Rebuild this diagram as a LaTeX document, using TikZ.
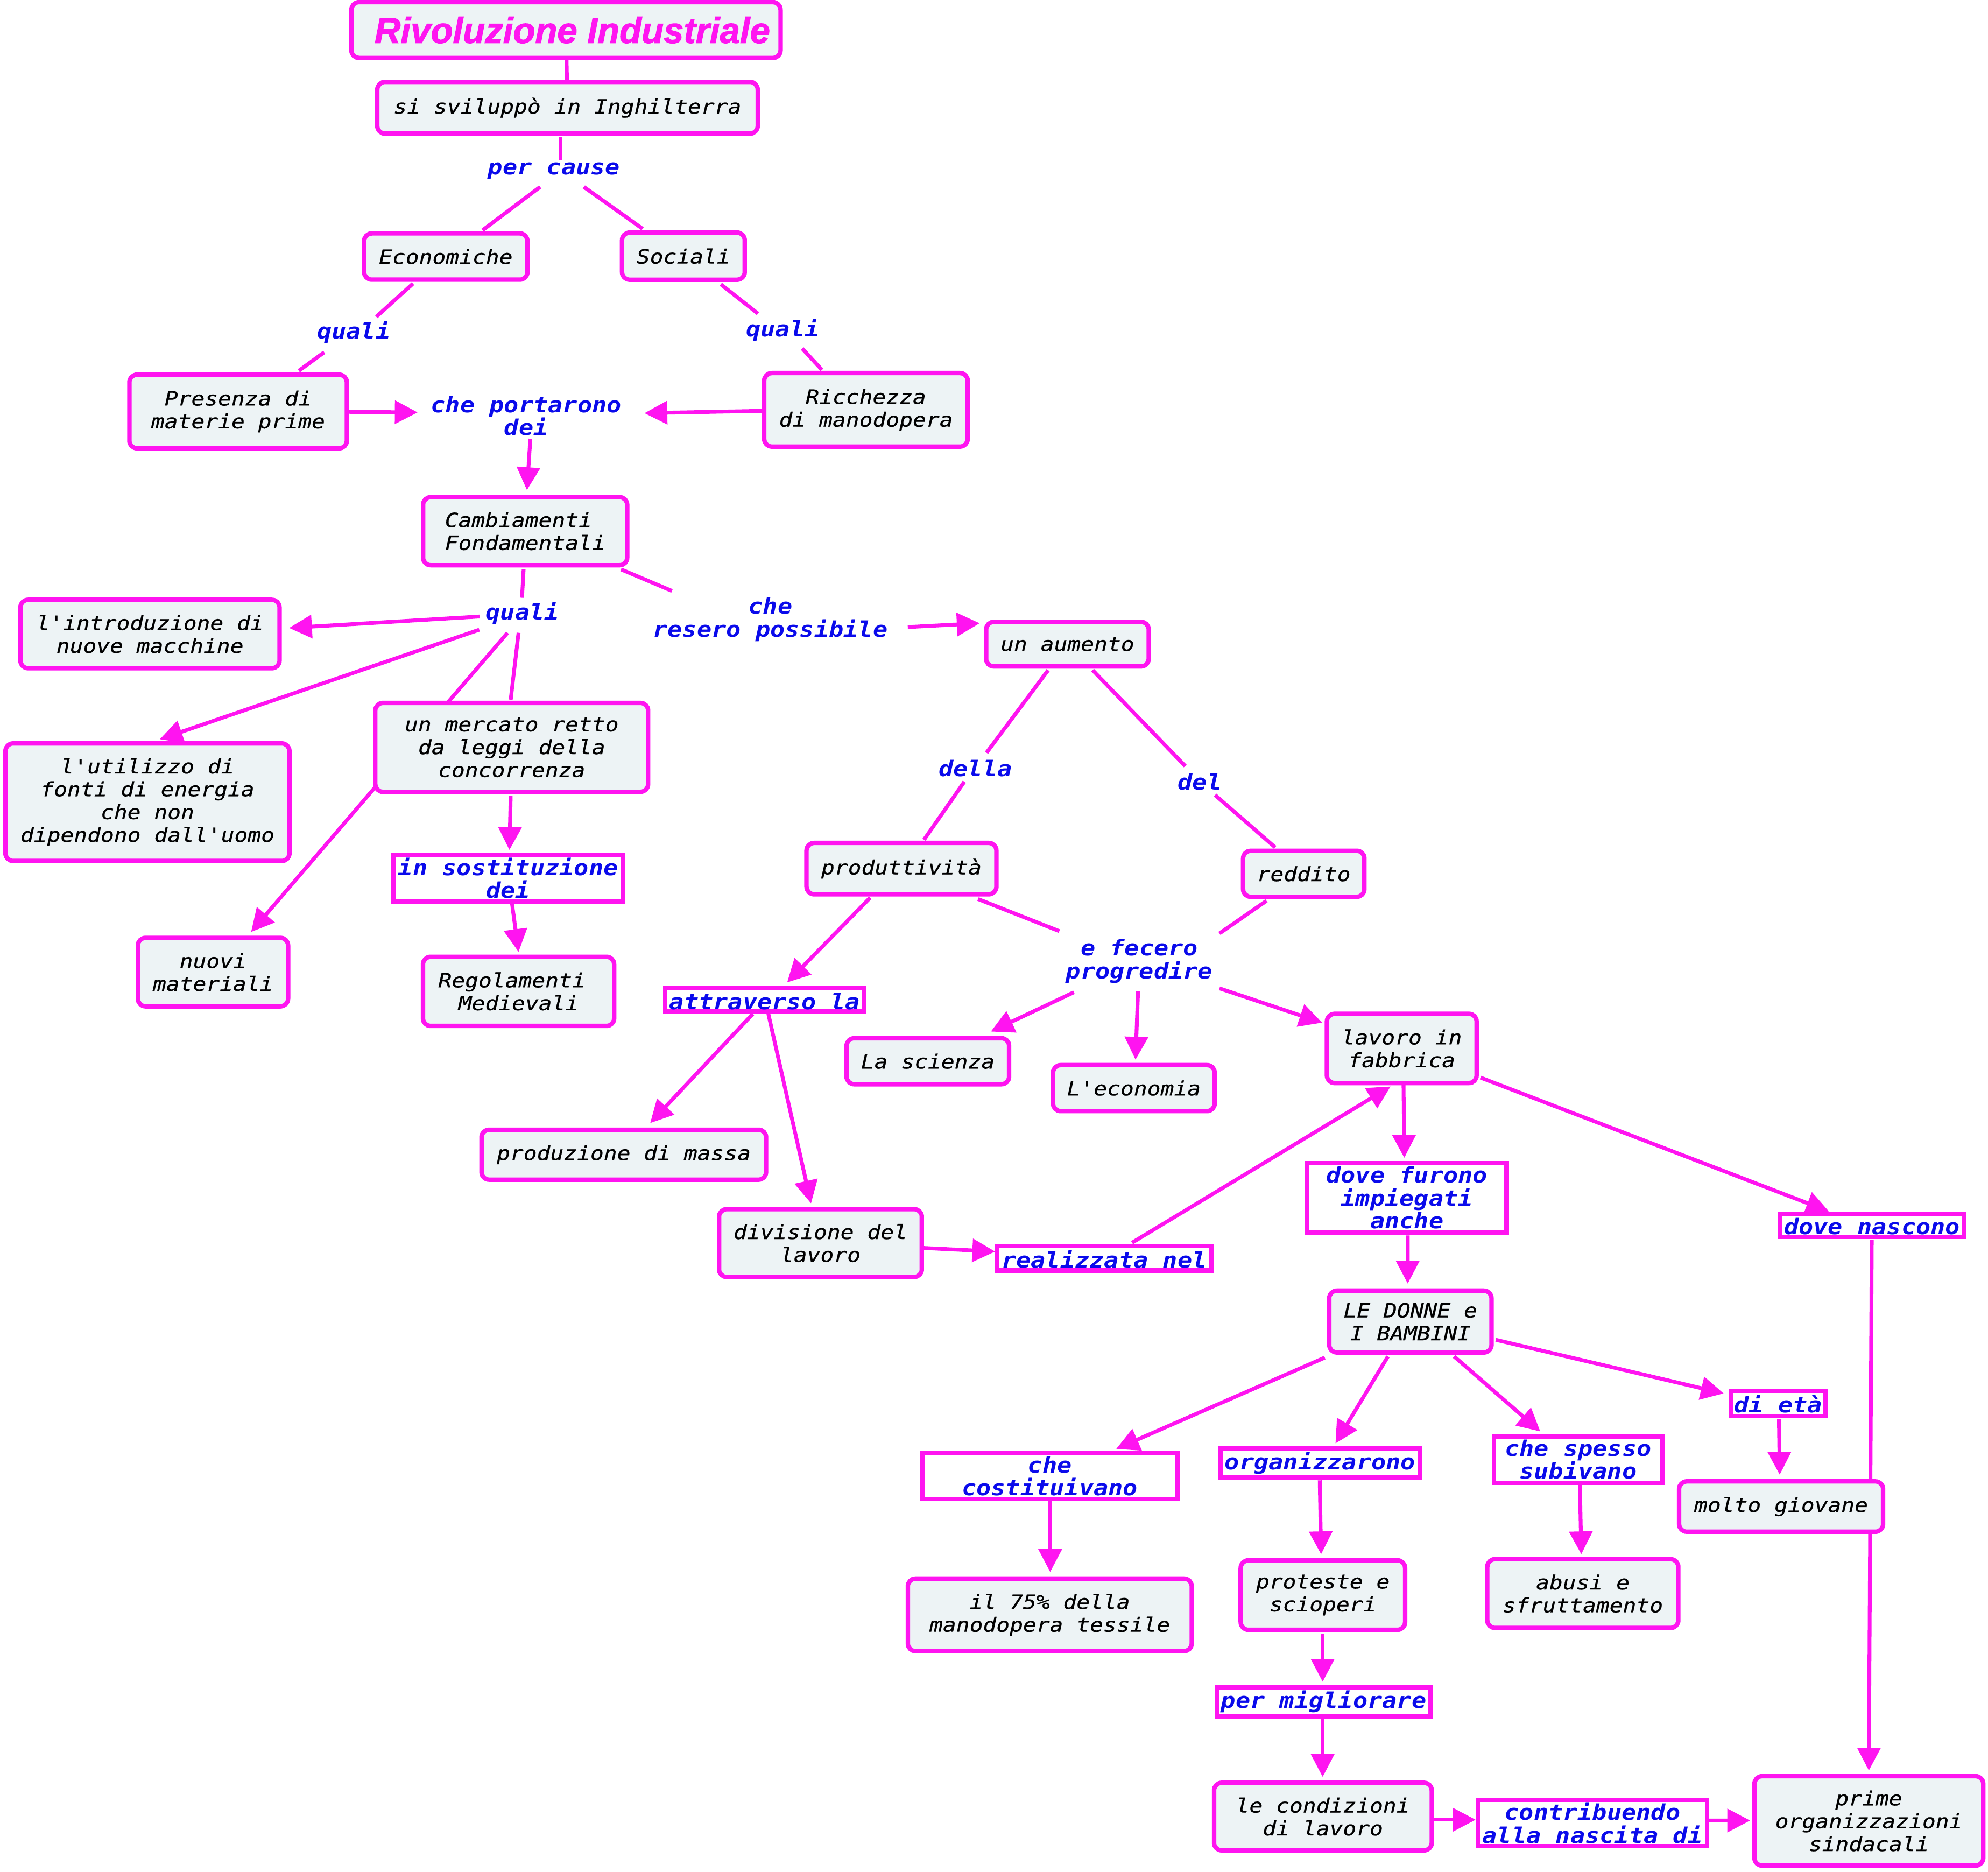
\documentclass[tikz,border=0pt]{standalone}
\usepackage{fontspec}
\newfontfamily\monof{DejaVu Sans Mono}[FakeStretch=1.13,Ligatures=TeXOff]
\newfontfamily\monobf{DejaVu Sans Mono}[FakeStretch=1.13,Ligatures=TeXOff,FakeBold=0.6]
\newfontfamily\titlef{Liberation Sans}[FakeBold=1.6]
\usetikzlibrary{arrows.meta,calc,backgrounds}
\definecolor{mag}{RGB}{255,20,240}
\definecolor{boxfill}{RGB}{237,243,245}
\definecolor{lblue}{RGB}{10,10,235}
\tikzset{
  cbox/.style={draw=mag, line width=3.5pt, fill=boxfill, rounded corners=6pt, align=center, inner sep=0pt, text=black,
    font=\monobf\itshape\fontsize{15.5}{18}\selectfont},
  lbox/.style={draw=mag, line width=3.5pt, fill=white, align=center, inner sep=0pt, text=lblue,
    font=\monof\bfseries\itshape\fontsize{17}{18}\selectfont},
  lowtext/.style={text height=15pt, text depth=0pt},
  lab/.style={align=center, inner sep=1pt, text=lblue,
    font=\monof\bfseries\itshape\fontsize{17}{18}\selectfont},
  sz/.style 2 args={minimum width=#1pt, minimum height=#2pt},
  conn/.style={draw=mag, line width=3pt},
  arr/.style={conn, -{Triangle[length=18pt,width=18pt]}},
}
\begin{document}
\begin{tikzpicture}[x=1pt,y=-1pt]
\useasboundingbox (0,0) rectangle (1568,1476);
% nodes
\node[cbox, sz={338.5}{44}, text=mag] (title) at (446.4,23.7) {\titlef\bfseries\itshape\fontsize{28.5}{30}\selectfont\hspace*{10pt}Rivoluzione Industriale};
\node[cbox, sz={300}{40.8}] (dev) at (447.6,85) {si sviluppò in Inghilterra};
\node[lab] (pc) at (437,134.7) {per cause};
\node[cbox, sz={128.8}{36.5}] (eco) at (351.6,202.3) {Economiche};
\node[cbox, sz={96.8}{37.2}] (soc) at (539,202) {Sociali};
\node[lab] (q1) at (279,262) {quali};
\node[lab] (q2) at (617.4,260.5) {quali};
\node[cbox, sz={171.5}{58.1}] (pres) at (187.8,324.5) {Presenza di\\materie prime};
\node[cbox, sz={160.5}{58}] (ric) at (683,323.2) {Ricchezza\\di manodopera};
\node[lab] (cpd) at (415,328) {che portarono\\dei};
\node[cbox, sz={161}{53.7}] (camb) at (414.2,418.9) {Cambiamenti\hphantom{x}\\Fondamentali};
\node[lab] (q3) at (412,483.7) {quali};
\node[lab] (crp) at (607.6,488.5) {che\\resero possibile};
\node[cbox, sz={204.4}{54}] (intro) at (118.3,500) {l'introduzione di\\nuove macchine};
\node[cbox, sz={224}{92.7}] (util) at (116.3,632.6) {l'utilizzo di\\fonti di energia\\che non\\dipendono dall'uomo};
\node[cbox, sz={215.2}{70.1}] (merc) at (403.6,589.4) {un mercato retto\\da leggi della\\concorrenza};
\node[lbox, sz={180.7}{36.7}] (sost) at (400.8,692.5) {in sostituzione\\dei};
\node[cbox, sz={118.5}{54}] (nuovi) at (168,766.6) {nuovi\\materiali};
\node[cbox, sz={150.8}{54.5}] (regol) at (409,781.8) {Regolamenti\hphantom{x}\\Medievali};
\node[cbox, sz={128.2}{35.2}] (aum) at (841.9,508) {un aumento};
\node[lab] (della) at (769.3,605.9) {della};
\node[lab] (del) at (946.3,616.5) {del};
\node[cbox, sz={149.8}{40.5}] (prod) at (711,685) {produttività};
\node[cbox, sz={95.7}{36.3}] (redd) at (1028.3,689.1) {reddito};
\node[lab] (efp) at (898.6,758.1) {e fecero\\progredire};
\node[lbox, lowtext, sz={157.2}{18.7}] (attr) at (603.2,788.4) {attraverso la};
\node[cbox, sz={128.2}{36.3}] (sci) at (731.8,836.9) {La scienza};
\node[cbox, sz={127.5}{36.3}] (econ) at (894.3,858.1) {L'economia};
\node[cbox, sz={118.1}{54.6}] (lav) at (1105.6,826.8) {lavoro in\\fabbrica};
\node[cbox, sz={224.5}{39.4}] (prodm) at (492,910.6) {produzione di massa};
\node[cbox, sz={159.9}{53.5}] (div) at (647.1,980.3) {divisione del\\lavoro};
\node[lbox, lowtext, sz={168.7}{19.4}] (real) at (871,992.2) {realizzata nel};
\node[lbox, sz={157.2}{54.5}] (dfi) at (1109.7,944.6) {dove furono\\impiegati\\anche};
\node[lbox, lowtext, sz={145.7}{18.3}] (dn) at (1476.6,966.2) {dove nascono};
\node[cbox, sz={128}{48.8}] (donne) at (1112.4,1042.2) {LE DONNE e\\I BAMBINI};
\node[lbox, sz={201}{36.4}] (cost) at (828,1164) {che\\costituivano};
\node[lbox, sz={156.9}{22.7}] (org) at (1041.2,1153.7) {organizzarono};
\node[lbox, sz={133}{36.5}] (csp) at (1244.7,1151) {che spesso\\subivano};
\node[lbox, lowtext, sz={74.8}{19.9}] (eta) at (1402.5,1106.7) {di età};
\node[cbox, sz={160.9}{39.7}] (molto) at (1404.8,1188.1) {molto giovane};
\node[cbox, sz={223.9}{57.2}] (p75) at (828,1273.5) {il 75\% della\\manodopera tessile};
\node[cbox, sz={129.7}{54.8}] (prot) at (1043.4,1257.9) {proteste e\\scioperi};
\node[cbox, sz={150.7}{54.2}] (abusi) at (1248.4,1256.7) {abusi e\\sfruttamento};
\node[lbox, sz={168.3}{23.3}] (pm) at (1044,1342.1) {per migliorare};
\node[cbox, sz={171.7}{53.3}] (cond) at (1043.4,1432.6) {le condizioni\\di lavoro};
\node[lbox, sz={180.7}{36.5}] (contr) at (1256,1437.6) {contribuendo\\alla nascita di};
\node[cbox, sz={180.5}{70.5}] (prime) at (1474,1436) {prime\\organizzazioni\\sindacali};
% connectors
\begin{pgfonlayer}{background}
\draw[conn] (title) -- (dev);
\draw[conn] ($(dev)+(-5.6,23)$) -- ($(pc)+(5,-8.7)$);
\draw[conn] ($(pc)+(-11,12.7)$) -- ($(eco)+(29.1,-20.8)$);
\draw[conn] ($(pc)+(23.5,12.7)$) -- ($(soc)+(-32.2,-21.6)$);
\draw[conn] ($(eco)+(-25.9,21.4)$) -- ($(q1)+(17.8,-12.2)$);
\draw[conn] ($(q1)+(-23.3,15.8)$) -- ($(pres)+(47.9,-32.1)$);
\draw[conn] ($(soc)+(29.5,22.2)$) -- ($(q2)+(-19.6,-13.2)$);
\draw[conn] ($(q2)+(15.4,14.4)$) -- ($(ric)+(-34.7,-31.5)$);
\draw[arr] ($(pres)+(87.5,0.3)$) -- ($(cpd)+(-85.6,-2.8)$);
\draw[arr] ($(ric)+(-82,0.8)$) -- ($(cpd)+(93.3,-2.2)$);
\draw[arr] ($(cpd)+(3.3,18)$) -- ($(camb)+(1.4,-32.4)$);
\draw[conn] ($(camb)+(-1.2,30.1)$) -- ($(q3)+(-0.3,-12.3)$);
\draw[conn] ($(camb)+(75.6,30.1)$) -- ($(crp)+(-77.6,-22.5)$);
\draw[arr] ($(q3)+(-33.8,2.5)$) -- ($(intro)+(109.7,-4.8)$);
\draw[arr] ($(q3)+(-11.7,15.3)$) -- ($(nuovi)+(30,-31.6)$);
\draw[conn] ($(q3)+(-3,15.3)$) -- ($(merc)+(-0.8,-37.6)$);
\draw[arr] ($(q3)+(-34,12.9)$) -- ($(util)+(9.7,-49.6)$);
\draw[arr] ($(crp)+(108.4,6)$) -- ($(aum)+(-69.2,-16.5)$);
\draw[arr] ($(merc)+(-0.8,38.3)$) -- ($(sost)+(1,-22.2)$);
\draw[arr] ($(sost)+(3.1,20.5)$) -- ($(regol)+(0,-31.1)$);
\draw[conn] ($(aum)+(-15.2,20.5)$) -- ($(della)+(8.8,-12.3)$);
\draw[conn] ($(della)+(-8.7,10.6)$) -- ($(prod)+(17.8,-22.8)$);
\draw[conn] ($(aum)+(19.9,20.5)$) -- ($(del)+(-11.5,-12.4)$);
\draw[conn] ($(del)+(12.1,10.5)$) -- ($(redd)+(-22.6,-20.9)$);
\draw[conn] ($(prod)+(60.4,24)$) -- ($(efp)+(-63.1,-23.8)$);
\draw[conn] ($(redd)+(-29.4,21.3)$) -- ($(efp)+(63.2,-22)$);
\draw[arr] ($(prod)+(-24.7,23)$) -- ($(attr)+(17.6,-13.6)$);
\draw[arr] ($(efp)+(-51.6,24.4)$) -- ($(sci)+(49.7,-23.4)$);
\draw[arr] ($(efp)+(-1,23.7)$) -- ($(econ)+(1.3,-22.4)$);
\draw[arr] ($(efp)+(63.2,21.3)$) -- ($(lav)+(-62.8,-20.3)$);
\draw[arr] ($(attr)+(-9.4,11.1)$) -- ($(prodm)+(20.8,-24.9)$);
\draw[arr] ($(attr)+(2.8,11.1)$) -- ($(div)+(-7.4,-31.3)$);
\draw[arr] ($(div)+(81.7,3.9)$) -- ($(real)+(-86.1,-5.2)$);
\draw[arr] ($(real)+(21.9,-12.2)$) -- ($(lav)+(-8.8,30)$);
\draw[arr] ($(lav)+(1.4,29)$) -- ($(dfi)+(-2.1,-31.5)$);
\draw[arr] ($(lav)+(62.1,23)$) -- ($(dn)+(-34.1,-10.9)$);
\draw[arr] ($(dfi)+(0.6,29.7)$) -- ($(donne)+(-2.1,-29.9)$);
\draw[arr] ($(dn)+(-0.3,11.7)$) -- ($(prime)+(0,-39.7)$);
\draw[arr] ($(donne)+(-67.5,28.4)$) -- ($(cost)+(52.4,-21.4)$);
\draw[arr] ($(donne)+(-17.7,27.5)$) -- ($(org)+(12.1,-15.4)$);
\draw[arr] ($(donne)+(34.5,27.5)$) -- ($(csp)+(-29.8,-22.1)$);
\draw[arr] ($(donne)+(67.4,14.4)$) -- ($(eta)+(-43,-7.8)$);
\draw[arr] ($(eta)+(0.6,12.6)$) -- ($(molto)+(-1.1,-25.1)$);
\draw[arr] ($(cost)+(0.3,20)$) -- ($(p75)+(0.3,-33.8)$);
\draw[arr] ($(org)+(-0.3,13.7)$) -- ($(prot)+(-1.4,-32.2)$);
\draw[arr] ($(csp)+(1.4,19.9)$) -- ($(abusi)+(-1.2,-31)$);
\draw[arr] ($(prot)+(-0.2,30.5)$) -- ($(pm)+(-0.8,-15.8)$);
\draw[arr] ($(pm)+(-0.8,13.4)$) -- ($(cond)+(-0.2,-31.3)$);
\draw[arr] ($(cond)+(86.5,2.5)$) -- ($(contr)+(-92.1,-2.5)$);
\draw[arr] ($(contr)+(92.1,-1.9)$) -- ($(prime)+(-93.6,-0.3)$);
\end{pgfonlayer}
\end{tikzpicture}
\end{document}
